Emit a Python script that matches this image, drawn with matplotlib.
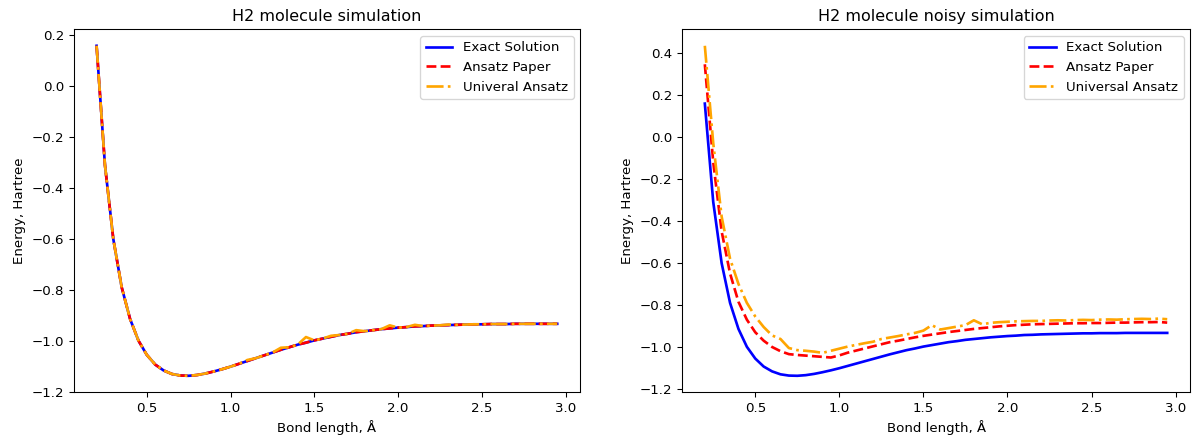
import numpy as np
import matplotlib
matplotlib.use('Agg')
import matplotlib.pyplot as plt

# Distancias de enlace (Angstrom)
bond_lengths = np.round(np.arange(0.20, 2.951, 0.05), 2)

# Energía exacta (FCI, base STO-3G)
exact_energy = [
    0.158, -0.310, -0.601, -0.790, -0.914, -0.999, -1.055, -1.093, -1.116, -1.130,
    -1.136, -1.137, -1.134, -1.128, -1.120, -1.111, -1.101, -1.090, -1.079, -1.068,
    -1.057, -1.046, -1.035, -1.025, -1.015, -1.007, -0.998, -0.991, -0.984, -0.977,
    -0.972, -0.966, -0.962, -0.958, -0.954, -0.951, -0.948, -0.946, -0.943, -0.942,
    -0.940, -0.939, -0.938, -0.937, -0.936, -0.935, -0.935, -0.934, -0.934, -0.934,
    -0.933, -0.933, -0.933, -0.933, -0.933, -0.933,
]

# Simulación sin ruido
paper_energy = [
    0.158, -0.310, -0.601, -0.790, -0.914, -0.999, -1.055, -1.093, -1.116, -1.130,
    -1.136, -1.137, -1.134, -1.128, -1.120, -1.111, -1.101, -1.090, -1.079, -1.068,
    -1.057, -1.046, -1.035, -1.025, -1.015, -1.007, -0.998, -0.991, -0.984, -0.977,
    -0.972, -0.966, -0.962, -0.958, -0.954, -0.951, -0.948, -0.946, -0.943, -0.942,
    -0.940, -0.939, -0.938, -0.937, -0.936, -0.935, -0.935, -0.934, -0.934, -0.934,
    -0.933, -0.933, -0.933, -0.933, -0.933, -0.933,
]
universal_energy = [
    0.158, -0.310, -0.601, -0.790, -0.914, -0.999, -1.055, -1.093, -1.116, -1.130,
    -1.136, -1.137, -1.134, -1.128, -1.120, -1.111, -1.101, -1.090, -1.075, -1.068,
    -1.057, -1.046, -1.027, -1.025, -1.015, -0.985, -0.998, -0.991, -0.980, -0.977,
    -0.972, -0.958, -0.962, -0.958, -0.954, -0.939, -0.948, -0.946, -0.937, -0.942,
    -0.940, -0.939, -0.936, -0.937, -0.936, -0.935, -0.935, -0.934, -0.934, -0.934,
    -0.933, -0.933, -0.933, -0.933, -0.933, -0.933,
]

# Simulación con ruido
paper_noisy = [
    0.345, -0.120, -0.450, -0.650, -0.785, -0.870, -0.930, -0.970, -1.000, -1.020,
    -1.034, -1.038, -1.041, -1.044, -1.047, -1.050, -1.040, -1.027, -1.017, -1.007,
    -0.997, -0.987, -0.977, -0.970, -0.962, -0.954, -0.947, -0.941, -0.935, -0.929,
    -0.924, -0.919, -0.914, -0.910, -0.906, -0.902, -0.899, -0.896, -0.894, -0.892,
    -0.891, -0.890, -0.889, -0.888, -0.887, -0.887, -0.886, -0.886, -0.885, -0.884,
    -0.884, -0.883, -0.882, -0.882, -0.881, -0.884,
]
universal_noisy = [
    0.433, -0.030, -0.380, -0.580, -0.700, -0.790, -0.855, -0.905, -0.945, -0.962,
    -1.005, -1.015, -1.018, -1.022, -1.028, -1.018, -1.008, -0.998, -0.990, -0.982,
    -0.975, -0.962, -0.955, -0.948, -0.940, -0.933, -0.922, -0.896, -0.917, -0.910,
    -0.903, -0.896, -0.873, -0.892, -0.885, -0.882, -0.880, -0.878, -0.877, -0.876,
    -0.876, -0.874, -0.873, -0.874, -0.872, -0.871, -0.872, -0.870, -0.869, -0.870,
    -0.868, -0.867, -0.866, -0.867, -0.865, -0.868,
]

fig = plt.figure(figsize=(1192 / 96, 439 / 96), dpi=96)
ax1 = fig.add_axes([0.0617, 0.1064, 0.4251, 0.8269])
ax2 = fig.add_axes([0.5719, 0.1064, 0.4267, 0.8269])

# Gráfico sin ruido
ax1.plot(bond_lengths, exact_energy, color='blue', lw=2, label='Exact Solution')
ax1.plot(bond_lengths, paper_energy, color='red', lw=2, ls='--', label='Ansatz Paper')
ax1.plot(bond_lengths, universal_energy, color='orange', lw=2, ls='-.', label='Univeral Ansatz')
ax1.set_title('H2 molecule simulation')
ax1.set_xlabel('Bond length, Å')
ax1.set_ylabel('Energy, Hartree')
ax1.legend(loc='upper right')

# Gráfico con ruido
ax2.plot(bond_lengths, exact_energy, color='blue', lw=2, label='Exact Solution')
ax2.plot(bond_lengths, paper_noisy, color='red', lw=2, ls='--', label='Ansatz Paper')
ax2.plot(bond_lengths, universal_noisy, color='orange', lw=2, ls='-.', label='Universal Ansatz')
ax2.set_title('H2 molecule noisy simulation')
ax2.set_xlabel('Bond length, Å')
ax2.set_ylabel('Energy, Hartree')
ax2.legend(loc='upper right')

fig.savefig('out.png', dpi=96)
